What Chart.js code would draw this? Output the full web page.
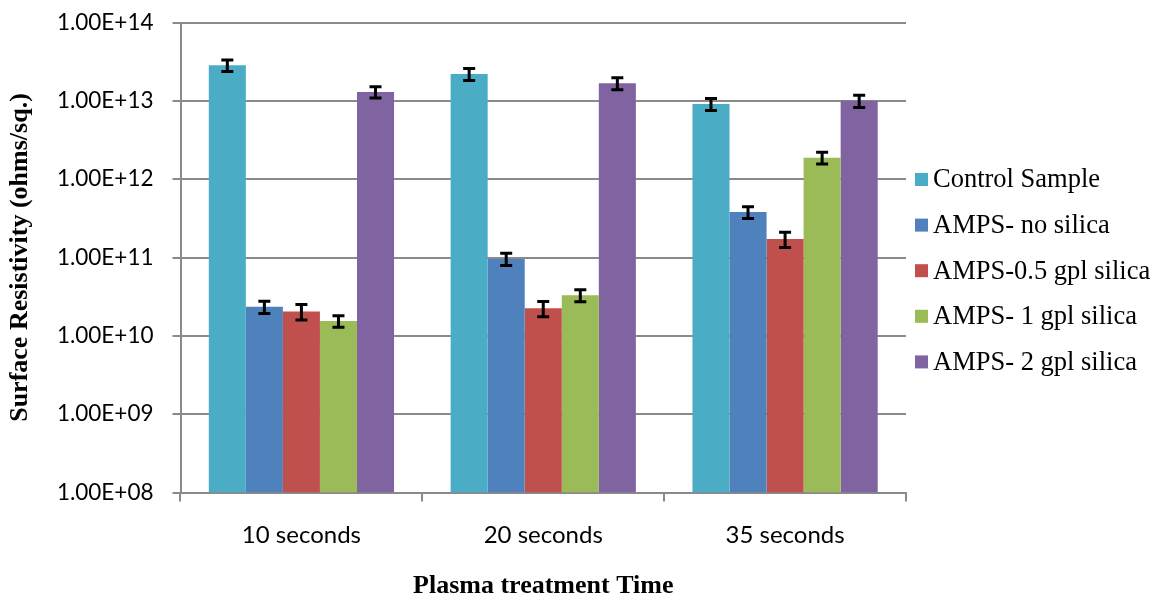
<!DOCTYPE html>
<html>
<head>
<meta charset="utf-8">
<script src="https://cdn.jsdelivr.net/npm/chart.js@4.4.1/dist/chart.umd.min.js"></script>
<style>
  html, body { margin: 0; padding: 0; background: #ffffff; }
  #wrap { width: 1161px; height: 599px; }
</style>
</head>
<body>
<div id="wrap"><canvas id="chart" width="1161" height="599"></canvas></div>
<script>
// Plasma treatment time groups
const categories = ['10 seconds', '20 seconds', '35 seconds'];

// Series names
const seriesNames = [
  'Control Sample',
  'AMPS- no silica',
  'AMPS-0.5 gpl silica',
  'AMPS- 1 gpl silica',
  'AMPS- 2 gpl silica'
];

// Surface resistivity (ohms/sq.) per series, one value per treatment time
const controlSample = [2.85e13, 2.2e13, 9.1e12];
const ampsNoSilica  = [2.35e10, 9.6e10, 3.8e11];
const amps05Silica  = [2.05e10, 2.25e10, 1.72e11];
const amps1Silica   = [1.55e10, 3.3e10, 1.88e12];
const amps2Silica   = [1.3e13, 1.68e13, 1.0e13];

// Standard error (same units) for each bar
const controlErr = [4.8e12, 3.8e12, 1.6e12];
const noSilicaErr = [4.2e9, 1.7e10, 6.6e10];
const silica05Err = [4.6e9, 5.0e9, 3.8e10];
const silica1Err  = [2.6e9, 5.8e9, 3.2e11];
const silica2Err  = [2.1e12, 2.9e12, 1.75e12];

// Logarithmic axis ticks
const yTickValues = [1e8, 1e9, 1e10, 1e11, 1e12, 1e13, 1e14];
const yTickLabels = ['1.00E+08', '1.00E+09', '1.00E+10', '1.00E+11', '1.00E+12', '1.00E+13', '1.00E+14'];

const seriesValues = [controlSample, ampsNoSilica, amps05Silica, amps1Silica, amps2Silica];
const seriesErrors = [controlErr, noSilicaErr, silica05Err, silica1Err, silica2Err];
const seriesColors = ['#4BACC6', '#4F81BD', '#C0504D', '#9BBB59', '#8064A2'];

const GRID = '#8a8a8a';

// Symmetric error bars drawn on top of each bar
const errorBarPlugin = {
  id: 'errorBars',
  afterDatasetsDraw(chart) {
    const ctx = chart.ctx;
    const yScale = chart.scales.y;
    ctx.save();
    ctx.strokeStyle = '#000000';
    ctx.lineWidth = 3;
    chart.data.datasets.forEach((ds, i) => {
      const meta = chart.getDatasetMeta(i);
      meta.data.forEach((bar, j) => {
        const v = ds.data[j];
        const e = ds.errors[j];
        const yHi = yScale.getPixelForValue(v + e);
        const yLo = yScale.getPixelForValue(v - e);
        const x = bar.x;
        const half = 6;
        ctx.beginPath();
        ctx.moveTo(x, yHi); ctx.lineTo(x, yLo);
        ctx.moveTo(x - half, yHi); ctx.lineTo(x + half, yHi);
        ctx.moveTo(x - half, yLo); ctx.lineTo(x + half, yLo);
        ctx.stroke();
      });
    });
    ctx.restore();
  }
};

// Legend column to the right of the plot area
const sideLegendPlugin = {
  id: 'sideLegend',
  afterDraw(chart) {
    const ctx = chart.ctx;
    ctx.save();
    ctx.font = '26.5px "Liberation Serif", "Times New Roman", serif';
    ctx.textBaseline = 'middle';
    ctx.textAlign = 'left';
    chart.data.datasets.forEach((ds, i) => {
      const cy = 179.5 + i * 45.6;
      ctx.fillStyle = ds.backgroundColor;
      ctx.fillRect(915, cy - 6.5, 13, 13);
      ctx.fillStyle = '#000000';
      ctx.fillText(ds.label, 933, cy + 1);
    });
    ctx.restore();
  }
};

new Chart(document.getElementById('chart'), {
  type: 'bar',
  data: {
    labels: categories,
    datasets: seriesNames.map((name, i) => ({
      label: name,
      data: seriesValues[i],
      errors: seriesErrors[i],
      backgroundColor: seriesColors[i],
      borderWidth: 0,
      categoryPercentage: 0.766,
      barPercentage: 1.0
    }))
  },
  options: {
    responsive: false,
    animation: false,
    devicePixelRatio: 1,
    layout: { padding: { left: 0, top: 22.5, right: 255, bottom: 0 } },
    plugins: {
      legend: { display: false },
      tooltip: { enabled: false }
    },
    scales: {
      x: {
        grid: {
          offset: true,
          drawOnChartArea: false,
          drawTicks: true,
          tickLength: 9,
          color: GRID,
          lineWidth: 2
        },
        border: { color: GRID, width: 2 },
        ticks: {
          color: '#000000',
          font: { family: 'Lato', size: 24 },
          padding: 19
        },
        title: {
          display: true,
          text: 'Plasma treatment Time',
          color: '#000000',
          font: { family: '"Liberation Serif", "Times New Roman", serif', size: 26, weight: 'bold', lineHeight: 1 },
          padding: { top: 0, bottom: 0 }
        },
        afterFit(scale) {
          scale.height = 106.5;
          scale.paddingLeft = 0;
          scale.paddingRight = 0;
        }
      },
      y: {
        type: 'logarithmic',
        min: yTickValues[0],
        max: yTickValues[yTickValues.length - 1],
        afterBuildTicks(scale) {
          scale.ticks = yTickValues.map(v => ({ value: v }));
        },
        grid: {
          color: GRID,
          lineWidth: 2,
          tickLength: 8
        },
        border: { color: GRID, width: 2 },
        ticks: {
          color: '#000000',
          font: { family: 'Lato', size: 22.5 },
          padding: 19,
          callback(value) {
            const k = yTickValues.indexOf(value);
            return k >= 0 ? yTickLabels[k] : '';
          }
        },
        title: {
          display: true,
          text: 'Surface Resistivity (ohms/sq.)',
          color: '#000000',
          font: { family: '"Liberation Serif", "Times New Roman", serif', size: 26, weight: 'bold', lineHeight: 1 },
          padding: { top: 7, bottom: 0 }
        },
        afterFit(scale) {
          scale.width = 180.5;
          scale.paddingTop = 0;
          scale.paddingBottom = 0;
        }
      }
    }
  },
  plugins: [errorBarPlugin, sideLegendPlugin]
});
</script>
</body>
</html>
